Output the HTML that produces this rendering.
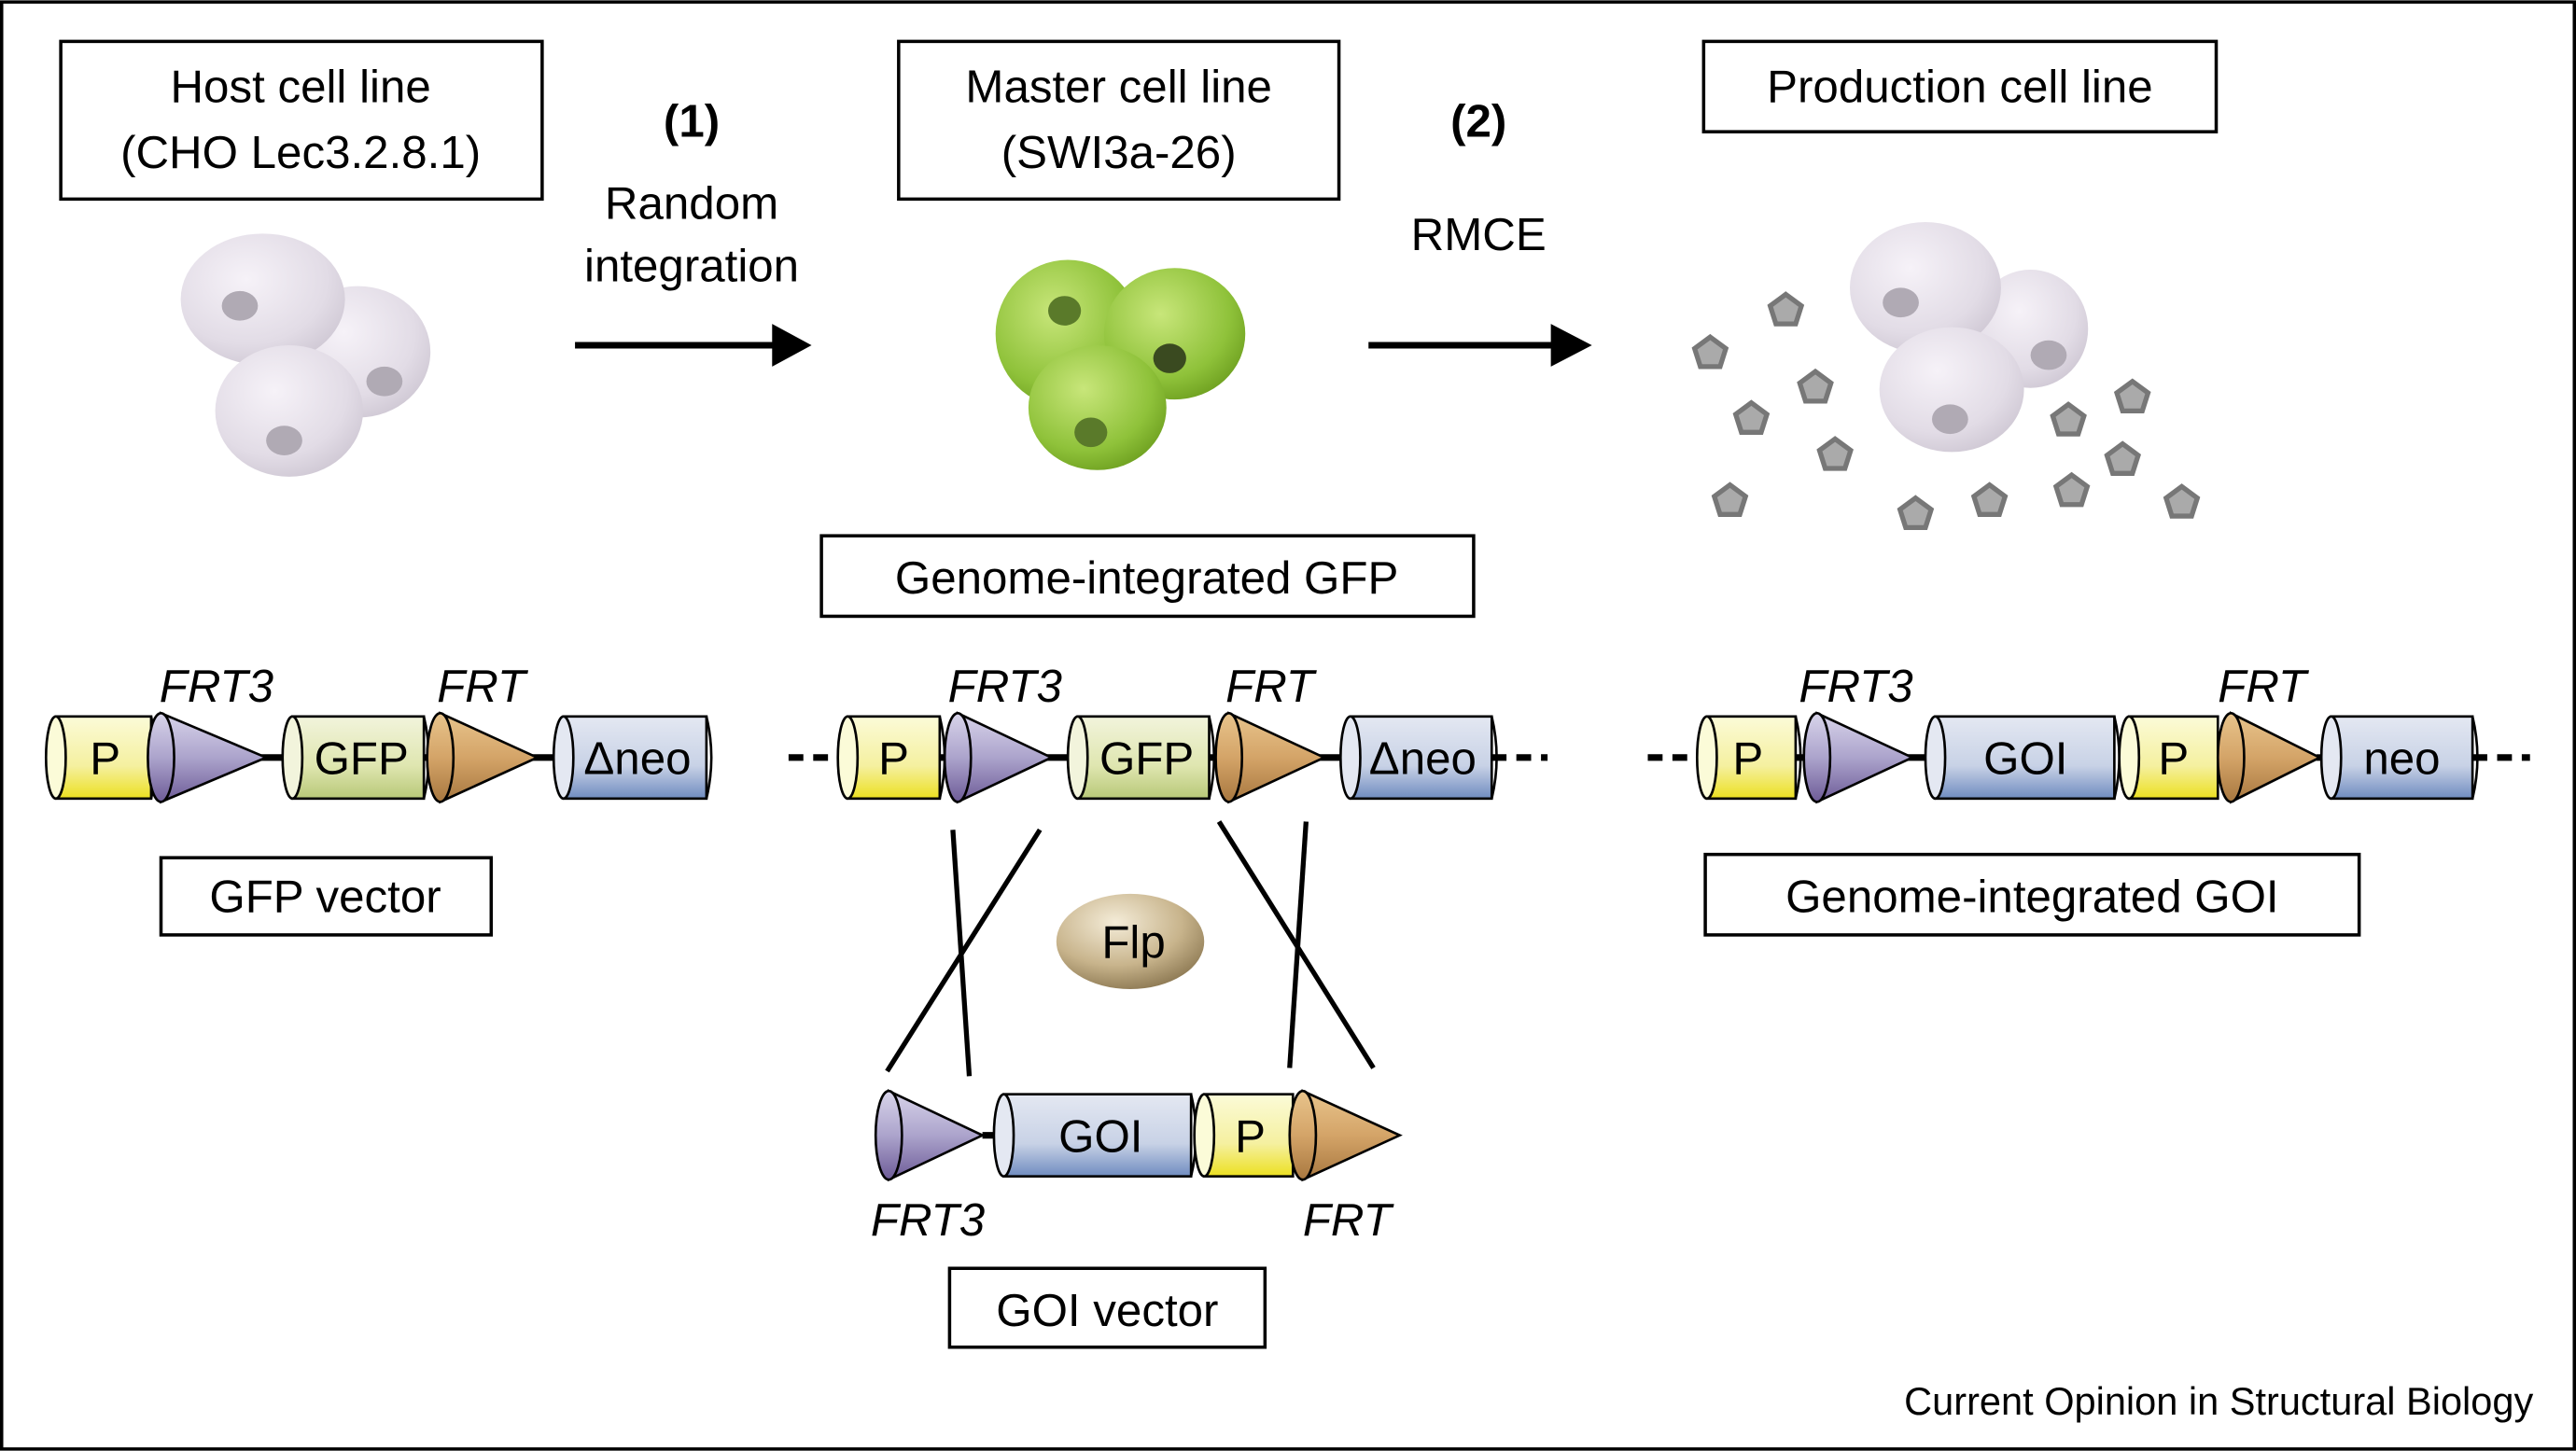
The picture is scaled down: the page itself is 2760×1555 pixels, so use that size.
<!DOCTYPE html>
<html><head><meta charset="utf-8"><style>
html,body{margin:0;padding:0;background:#fff;}
svg{display:block;}
text{font-family:"Liberation Sans",sans-serif;fill:#000;}
</style></head><body>
<svg width="2760" height="1555" viewBox="0 0 1568 883" xmlns="http://www.w3.org/2000/svg">
<defs>
<linearGradient id="gy" x1="0" y1="0" x2="0" y2="1"><stop offset="0" stop-color="#fbfbd8"/><stop offset="0.6" stop-color="#f5f0a0"/><stop offset="1" stop-color="#ece020"/></linearGradient>
<linearGradient id="gg" x1="0" y1="0" x2="0" y2="1"><stop offset="0" stop-color="#f2f4dc"/><stop offset="0.6" stop-color="#dfe6b0"/><stop offset="1" stop-color="#b8c878"/></linearGradient>
<linearGradient id="gb" x1="0" y1="0" x2="0" y2="1"><stop offset="0" stop-color="#e4e8f2"/><stop offset="0.6" stop-color="#c8d2e6"/><stop offset="1" stop-color="#6f8cc0"/></linearGradient>
<linearGradient id="gp" x1="0" y1="0" x2="0" y2="1"><stop offset="0" stop-color="#d8d4ea"/><stop offset="0.5" stop-color="#aca4cc"/><stop offset="1" stop-color="#6e5c98"/></linearGradient>
<linearGradient id="go" x1="0" y1="0" x2="0" y2="1"><stop offset="0" stop-color="#e8c48c"/><stop offset="0.5" stop-color="#d4a468"/><stop offset="1" stop-color="#a87840"/></linearGradient>
<radialGradient id="gc" cx="0.4" cy="0.35" r="0.7"><stop offset="0" stop-color="#f6f2f8"/><stop offset="0.7" stop-color="#e2dce6"/><stop offset="1" stop-color="#cfc8d4"/></radialGradient>
<radialGradient id="gm" cx="0.4" cy="0.35" r="0.7"><stop offset="0" stop-color="#c8e67a"/><stop offset="0.7" stop-color="#8fc23a"/><stop offset="1" stop-color="#6ea020"/></radialGradient>
<radialGradient id="gf" cx="0.4" cy="0.3" r="0.75"><stop offset="0" stop-color="#f4ecd8"/><stop offset="0.6" stop-color="#c8b48c"/><stop offset="1" stop-color="#8a7650"/></radialGradient>
<g id="pent"><polygon points="0,-10 9.5,-3 6,8 -6,8 -9.5,-3" fill="#aaa" stroke="#777" stroke-width="3"/></g>
</defs>
<rect x="1" y="1" width="1566" height="881" fill="#fff" stroke="#000" stroke-width="2"/>

<g fill="#fff" stroke="#000" stroke-width="2">
<rect x="37" y="25" width="293" height="96"/>
<rect x="547" y="25" width="268" height="96"/>
<rect x="1037" y="25" width="312" height="55"/>
<rect x="500" y="326" width="397" height="49"/>
<rect x="98" y="522" width="201" height="47"/>
<rect x="1038" y="520" width="398" height="49"/>
<rect x="578" y="772" width="192" height="48"/>
</g>
<g font-size="28" text-anchor="middle">
<text x="183" y="62">Host cell line</text>
<text x="183" y="102">(CHO Lec3.2.8.1)</text>
<text x="681" y="62">Master cell line</text>
<text x="681" y="102">(SWI3a-26)</text>
<text x="1193" y="62">Production cell line</text>
<text x="698" y="361">Genome-integrated GFP</text>
<text x="198" y="555">GFP vector</text>
<text x="1237" y="555">Genome-integrated GOI</text>
<text x="674" y="807">GOI vector</text>
<text x="421" y="83" font-weight="bold">(1)</text>
<text x="421" y="133">Random</text>
<text x="421" y="171">integration</text>
<text x="900" y="83" font-weight="bold">(2)</text>
<text x="900" y="152">RMCE</text>
</g>
<text x="1542" y="861" font-size="23.6" text-anchor="end">Current Opinion in Structural Biology</text>

<line x1="350" y1="210" x2="472" y2="210" stroke="#000" stroke-width="4"/>
<polygon points="470,197 494,210 470,223" fill="#000"/>
<line x1="833" y1="210" x2="946" y2="210" stroke="#000" stroke-width="4"/>
<polygon points="944,197 969,210 944,223" fill="#000"/>

<g>
<ellipse cx="218" cy="214" rx="44" ry="40" fill="url(#gc)"/><ellipse cx="234" cy="232" rx="11" ry="9" fill="#b0aab4"/>
<ellipse cx="160" cy="182" rx="50" ry="40" fill="url(#gc)"/><ellipse cx="146" cy="186" rx="11" ry="9" fill="#b0aab4"/>
<ellipse cx="176" cy="250" rx="45" ry="40" fill="url(#gc)"/><ellipse cx="173" cy="268" rx="11" ry="9" fill="#b0aab4"/>
</g>
<g>
<ellipse cx="650" cy="203" rx="44" ry="45" fill="url(#gm)"/><ellipse cx="648" cy="189" rx="10" ry="9" fill="#5a7a2a"/>
<ellipse cx="715" cy="203" rx="43" ry="40" fill="url(#gm)"/><ellipse cx="712" cy="218" rx="10" ry="9" fill="#3a4a20"/>
<ellipse cx="668" cy="248" rx="42" ry="38" fill="url(#gm)"/><ellipse cx="664" cy="263" rx="10" ry="9" fill="#5a7a2a"/>
</g>
<g>
<ellipse cx="1236" cy="200" rx="35" ry="36" fill="url(#gc)"/><ellipse cx="1247" cy="216" rx="11" ry="9" fill="#b0aab4"/>
<ellipse cx="1172" cy="175" rx="46" ry="40" fill="url(#gc)"/><ellipse cx="1157" cy="184" rx="11" ry="9" fill="#b0aab4"/>
<ellipse cx="1188" cy="237" rx="44" ry="38" fill="url(#gc)"/><ellipse cx="1187" cy="255" rx="11" ry="9" fill="#b0aab4"/>
</g>
<g>
<use href="#pent" x="1087" y="189"/><use href="#pent" x="1041" y="215"/><use href="#pent" x="1105" y="236"/>
<use href="#pent" x="1066" y="255"/><use href="#pent" x="1117" y="277"/><use href="#pent" x="1053" y="305"/>
<use href="#pent" x="1166" y="313"/><use href="#pent" x="1211" y="305"/><use href="#pent" x="1261" y="299"/>
<use href="#pent" x="1259" y="256"/><use href="#pent" x="1298" y="242"/><use href="#pent" x="1292" y="280"/>
<use href="#pent" x="1328" y="306"/>
</g>

<g stroke="#000" stroke-width="2">
<line x1="92" y1="461" x2="172" y2="461" stroke-width="4"/>
<line x1="255" y1="461" x2="340" y2="461" stroke-width="4"/>
</g>
<g stroke="#000" stroke-width="1.5">
<rect x="34" y="436" width="58" height="50" fill="url(#gy)"/><ellipse cx="34" cy="461" rx="6" ry="25" fill="#fbfbd8"/><path d="M92 436 q6 25 0 50" fill="none"/>
<polygon points="98,434 162,461 98,488" fill="url(#gp)"/><ellipse cx="98" cy="461" rx="8" ry="27" fill="url(#gp)"/>
<rect x="178" y="436" width="80" height="50" fill="url(#gg)"/><ellipse cx="178" cy="461" rx="6" ry="25" fill="#f2f4dc"/><path d="M258 436 q6 25 0 50" fill="none"/>
<polygon points="268,434 327,461 268,488" fill="url(#go)"/><ellipse cx="268" cy="461" rx="8" ry="27" fill="url(#go)"/>
<rect x="343" y="436" width="87" height="50" fill="url(#gb)"/><ellipse cx="343" cy="461" rx="6" ry="25" fill="#e4e8f2"/><path d="M430 436 q6 25 0 50" fill="none"/>
</g>
<g font-size="28" text-anchor="middle">
<text x="64" y="471">P</text><text x="220" y="471">GFP</text><text x="388" y="471">Δneo</text>
</g>
<g font-size="28" font-style="italic"><text x="97" y="427">FRT3</text><text x="266" y="427">FRT</text></g>

<g stroke="#000" stroke-width="4">
<line x1="480" y1="461" x2="510" y2="461" stroke-dasharray="9,6"/>
<line x1="572" y1="461" x2="650" y2="461"/>
<line x1="735" y1="461" x2="820" y2="461"/>
<line x1="908" y1="461" x2="942" y2="461" stroke-dasharray="9,6"/>
</g>
<g stroke="#000" stroke-width="1.5">
<rect x="516" y="436" width="56" height="50" fill="url(#gy)"/><ellipse cx="516" cy="461" rx="6" ry="25" fill="#fbfbd8"/><path d="M572 436 q6 25 0 50" fill="none"/>
<polygon points="583,434 640,461 583,488" fill="url(#gp)"/><ellipse cx="583" cy="461" rx="8" ry="27" fill="url(#gp)"/>
<rect x="656" y="436" width="80" height="50" fill="url(#gg)"/><ellipse cx="656" cy="461" rx="6" ry="25" fill="#f2f4dc"/><path d="M736 436 q6 25 0 50" fill="none"/>
<polygon points="748,434 806,461 748,488" fill="url(#go)"/><ellipse cx="748" cy="461" rx="8" ry="27" fill="url(#go)"/>
<rect x="822" y="436" width="86" height="50" fill="url(#gb)"/><ellipse cx="822" cy="461" rx="6" ry="25" fill="#e4e8f2"/><path d="M908 436 q6 25 0 50" fill="none"/>
</g>
<g font-size="28" text-anchor="middle">
<text x="544" y="471">P</text><text x="698" y="471">GFP</text><text x="866" y="471">Δneo</text>
</g>
<g font-size="28" font-style="italic"><text x="577" y="427">FRT3</text><text x="746" y="427">FRT</text></g>

<g stroke="#000" stroke-width="4">
<line x1="1003" y1="461" x2="1036" y2="461" stroke-dasharray="9,6"/>
<line x1="1093" y1="461" x2="1175" y2="461"/>
<line x1="1410" y1="461" x2="1418" y2="461"/>
<line x1="1505" y1="461" x2="1540" y2="461" stroke-dasharray="9,6"/>
</g>
<g stroke="#000" stroke-width="1.5">
<rect x="1039" y="436" width="54" height="50" fill="url(#gy)"/><ellipse cx="1039" cy="461" rx="6" ry="25" fill="#fbfbd8"/><path d="M1093 436 q6 25 0 50" fill="none"/>
<polygon points="1106,434 1164,461 1106,488" fill="url(#gp)"/><ellipse cx="1106" cy="461" rx="8" ry="27" fill="url(#gp)"/>
<rect x="1178" y="436" width="109" height="50" fill="url(#gb)"/><ellipse cx="1178" cy="461" rx="6" ry="25" fill="#e4e8f2"/><path d="M1287 436 q6 25 0 50" fill="none"/>
<rect x="1296" y="436" width="54" height="50" fill="url(#gy)"/><ellipse cx="1296" cy="461" rx="6" ry="25" fill="#fbfbd8"/>
<polygon points="1358,434 1412,461 1358,488" fill="url(#go)"/><ellipse cx="1358" cy="461" rx="8" ry="27" fill="url(#go)"/>
<rect x="1419" y="436" width="86" height="50" fill="url(#gb)"/><ellipse cx="1419" cy="461" rx="6" ry="25" fill="#e4e8f2"/><path d="M1505 436 q6 25 0 50" fill="none"/>
</g>
<g font-size="28" text-anchor="middle">
<text x="1064" y="471">P</text><text x="1233" y="471">GOI</text><text x="1323" y="471">P</text><text x="1462" y="471">neo</text>
</g>
<g font-size="28" font-style="italic"><text x="1095" y="427">FRT3</text><text x="1350" y="427">FRT</text></g>

<g stroke="#000" stroke-width="3">
<line x1="580" y1="505" x2="590" y2="655"/>
<line x1="633" y1="505" x2="540" y2="652"/>
<line x1="742" y1="500" x2="836" y2="650"/>
<line x1="795" y1="500" x2="785" y2="650"/>
</g>
<ellipse cx="688" cy="573" rx="45" ry="29" fill="url(#gf)"/>
<text x="690" y="583" font-size="28" text-anchor="middle">Flp</text>

<line x1="598" y1="691" x2="612" y2="691" stroke="#000" stroke-width="4"/>
<g stroke="#000" stroke-width="1.5">
<polygon points="541,664 598,691 541,718" fill="url(#gp)"/><ellipse cx="541" cy="691" rx="8" ry="27" fill="url(#gp)"/>
<rect x="611" y="666" width="114" height="50" fill="url(#gb)"/><ellipse cx="611" cy="691" rx="6" ry="25" fill="#e4e8f2"/><path d="M725 666 q6 25 0 50" fill="none"/>
<rect x="733" y="666" width="54" height="50" fill="url(#gy)"/><ellipse cx="733" cy="691" rx="6" ry="25" fill="#fbfbd8"/>
<polygon points="793,664 852,691 793,718" fill="url(#go)"/><ellipse cx="793" cy="691" rx="8" ry="27" fill="url(#go)"/>
</g>
<g font-size="28" text-anchor="middle"><text x="670" y="701">GOI</text><text x="761" y="701">P</text></g>
<g font-size="28" font-style="italic"><text x="530" y="752">FRT3</text><text x="793" y="752">FRT</text></g>
</svg>
</body></html>
